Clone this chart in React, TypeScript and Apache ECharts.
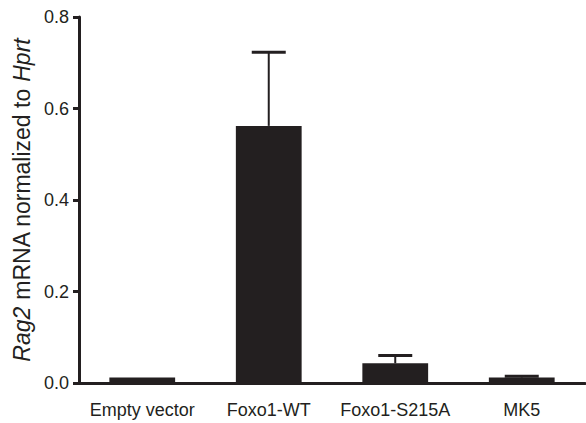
import React, { useEffect, useRef } from "react";
import * as echarts from "echarts";

const categories = ["Empty vector", "Foxo1-WT", "Foxo1-S215A", "MK5"];
const means = [0.012, 0.562, 0.043, 0.012];
const upperErrors = [0.012, 0.723, 0.06, 0.015];
const yTicks = [0, 0.2, 0.4, 0.6, 0.8];

const INK = "#231f20";
const FONT = "'Liberation Sans', Arial, Helvetica, sans-serif";

export default function App() {
  const ref = useRef<HTMLDivElement>(null);
  useEffect(() => {
    if (!ref.current) return;
    const chart = echarts.init(ref.current, undefined, { renderer: "svg" });
    const errData = categories.map((_, i) => [i, means[i], upperErrors[i]]);
    chart.setOption({
      animation: false,
      backgroundColor: "#ffffff",
      textStyle: { fontFamily: FONT, color: INK },
      grid: { left: 79, right: 1, top: 17, bottom: 40, containLabel: false },
      xAxis: {
        type: "category",
        data: categories,
        axisLine: { lineStyle: { color: INK, width: 3 } },
        axisTick: { alignWithLabel: true, length: 9, lineStyle: { color: INK, width: 3 } },
        axisLabel: { color: INK, fontSize: 18, fontFamily: FONT, margin: 18, interval: 0 },
        splitLine: { show: false },
      },
      yAxis: {
        type: "value",
        min: yTicks[0],
        max: yTicks[yTicks.length - 1],
        interval: 0.2,
        name: "{i|Rag2} mRNA normalized to {i|Hprt}",
        nameLocation: "middle",
        nameGap: 45,
        nameRotate: 90,
        nameTextStyle: {
          color: INK,
          fontSize: 23,
          fontFamily: FONT,
          rich: { i: { fontStyle: "italic", fontSize: 23, fontFamily: FONT, color: INK } },
        },
        axisLine: { show: true, lineStyle: { color: INK, width: 3 } },
        axisTick: { show: true, inside: false, length: 6, lineStyle: { color: INK, width: 3 } },
        axisLabel: {
          color: INK,
          fontSize: 18,
          fontFamily: FONT,
          margin: 10,
          formatter: (v: number) => v.toFixed(1),
        },
        splitLine: { show: false },
      },
      series: [
        {
          type: "bar",
          data: means,
          barWidth: "52%",
          itemStyle: { color: INK },
          z: 2,
        },
        {
          type: "custom",
          data: errData,
          encode: { x: 0, y: [1, 2] },
          z: 3,
          renderItem: (params: any, api: any) => {
            const i = api.value(0);
            const top = api.coord([i, api.value(2)]);
            const base = api.coord([i, api.value(1)]);
            if (Math.abs(base[1] - top[1]) < 0.5) return { type: "group", children: [] };
            const half = 17;
            return {
              type: "group",
              children: [
                {
                  type: "line",
                  shape: { x1: top[0], y1: base[1], x2: top[0], y2: top[1] },
                  style: { stroke: INK, lineWidth: 2 },
                },
                {
                  type: "line",
                  shape: { x1: top[0] - half, y1: top[1], x2: top[0] + half, y2: top[1] },
                  style: { stroke: INK, lineWidth: 3 },
                },
              ],
            };
          },
        },
      ],
    });
    return () => chart.dispose();
  }, []);
  return (
    <div
      ref={ref}
      style={{ position: "fixed", left: 0, top: 0, width: 586, height: 423, background: "#fff" }}
    />
  );
}
